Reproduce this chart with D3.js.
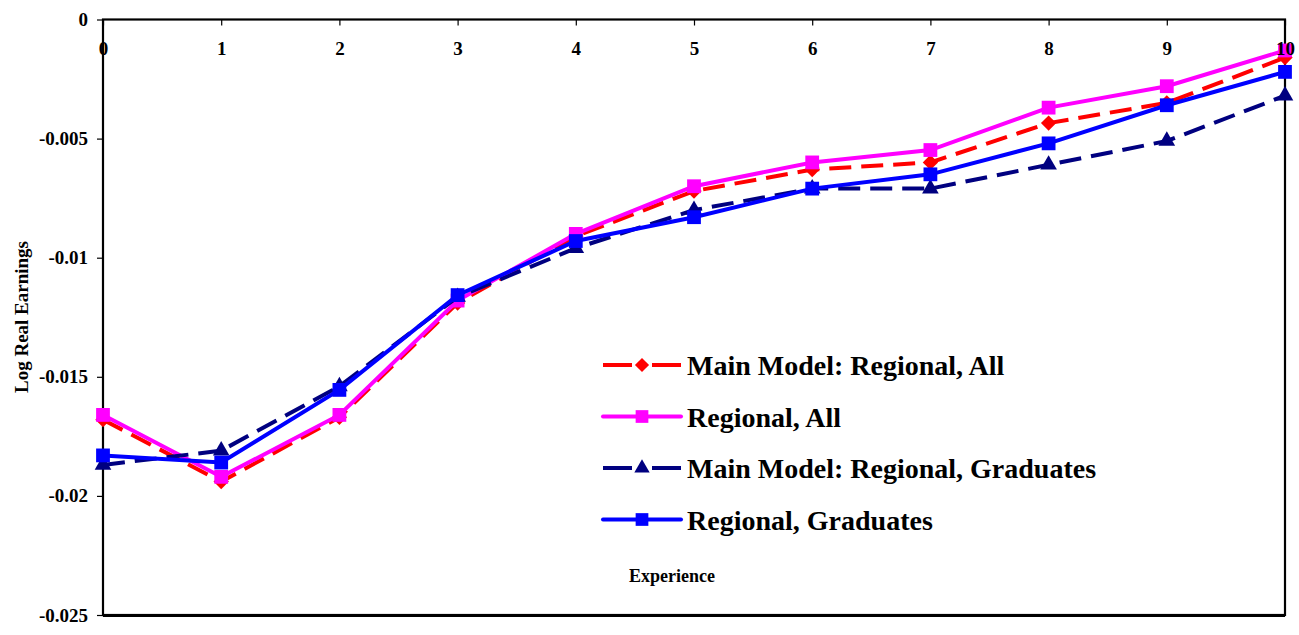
<!DOCTYPE html>
<html>
<head>
<meta charset="utf-8">
<script src="https://cdn.jsdelivr.net/npm/d3@7"></script>
<style>
  body { margin: 0; background: #fff; }
  text { font-family: "Liberation Serif", "DejaVu Serif", serif; font-weight: bold; }
</style>
</head>
<body>
<div id="container"></div>
<script>
// experience years
const experience = [0, 1, 2, 3, 4, 5, 6, 7, 8, 9, 10];

// series values
const mainAll = [-0.0168, -0.0194, -0.0167, -0.0119, -0.0091, -0.0072, -0.0063, -0.0060, -0.00435, -0.0035, -0.0016];
const regAll = [-0.0166, -0.0192, -0.0166, -0.0118, -0.0090, -0.0070, -0.0060, -0.00548, -0.0037, -0.0028, -0.0013];
const mainGrad = [-0.0187, -0.0181, -0.0154, -0.01165, -0.0096, -0.0080, -0.0071, -0.0071, -0.0061, -0.0051, -0.0032];
const regGrad = [-0.0183, -0.0186, -0.01555, -0.01157, -0.0093, -0.0083, -0.0071, -0.0065, -0.0052, -0.0036, -0.0022];

const seriesNames = ["Main Model: Regional, All", "Regional, All", "Main Model: Regional, Graduates", "Regional, Graduates"];
const yTicks = [0, -0.005, -0.01, -0.015, -0.02, -0.025];
const yTickLabels = ["0", "-0.005", "-0.01", "-0.015", "-0.02", "-0.025"];

const w = 1299;
const h = 635;
const plotLeft = 103, plotRight = 1285, plotTop = 19.5, plotBottom = 615;

const xScale = d3.scaleLinear().domain([0, 10]).range([plotLeft, plotRight]);
const yScale = d3.scaleLinear().domain([-0.025, 0]).range([plotBottom, plotTop]);

const svg = d3.select("#container")
              .append("svg")
              .attr("width", w)
              .attr("height", h);

const series = [
    {name: seriesNames[0], values: mainAll, color: "#ff0000", dash: "22,10", shape: d3.symbolDiamond2, size: 150},
    {name: seriesNames[1], values: regAll, color: "#ff00ff", dash: null, shape: d3.symbolSquare, size: 190},
    {name: seriesNames[2], values: mainGrad, color: "#000080", dash: "22,10", shape: d3.symbolTriangle, size: 120},
    {name: seriesNames[3], values: regGrad, color: "#0000ff", dash: null, shape: d3.symbolSquare, size: 190}
];

const yAxis = d3.axisLeft(yScale)
                .tickValues(yTicks)
                .tickFormat((d, i) => yTickLabels[i])
                .tickSize(6)
                .tickPadding(9);

svg.append("g")
   .attr("transform", "translate(" + plotLeft + ",0)")
   .style("font-size", "19px")
   .call(yAxis)
   .call(g => g.select(".domain").remove())
   .call(g => g.selectAll("line").attr("stroke", "#000").attr("stroke-width", 1.2))
   .call(g => g.selectAll("text").attr("fill", "#000").style("font-family", "Liberation Serif").style("font-weight", "bold"));

// plot frame
svg.append("rect")
   .attr("x", plotLeft)
   .attr("y", plotTop)
   .attr("width", plotRight - plotLeft)
   .attr("height", plotBottom - plotTop)
   .attr("fill", "none")
   .attr("stroke", "#000")
   .attr("stroke-width", 2.2);

svg.append("line")
   .attr("x1", plotLeft)
   .attr("x2", plotRight)
   .attr("y1", plotBottom + 1)
   .attr("y2", plotBottom + 1)
   .attr("stroke", "#000")
   .attr("stroke-width", 2);

const line = d3.line()
               .x((d, i) => xScale(experience[i]))
               .y(d => yScale(d));

series.forEach(function(s){
    svg.append("path")
       .datum(s.values)
       .attr("d", line)
       .attr("fill", "none")
       .attr("stroke", s.color)
       .attr("stroke-width", 4)
       .attr("stroke-dasharray", s.dash);

    svg.selectAll(null)
       .data(s.values)
       .enter()
       .append("path")
       .attr("transform", (d, i) => "translate(" + xScale(experience[i]) + "," + yScale(d) + ")")
       .attr("d", d3.symbol().type(s.shape).size(s.size))
       .attr("fill", s.color);
});

// x axis on top, ticks pointing into the plot, labels drawn over the lines
const xAxis = d3.axisBottom(xScale)
                .tickValues(experience)
                .tickFormat(d3.format("d"))
                .tickSize(6)
                .tickPadding(16);

svg.append("g")
   .attr("transform", "translate(0," + plotTop + ")")
   .style("font-size", "19px")
   .call(xAxis)
   .call(g => g.select(".domain").remove())
   .call(g => g.selectAll("line").attr("stroke", "#000").attr("stroke-width", 1.2))
   .call(g => g.selectAll("text").attr("fill", "#000").style("font-family", "Liberation Serif").style("font-weight", "bold"));

// legend
series.forEach(function(s, i){
    const ly = 365 + i * 51.5;
    svg.append("line")
       .attr("x1", 603)
       .attr("x2", 681)
       .attr("y1", ly)
       .attr("y2", ly)
       .attr("stroke", s.color)
       .attr("stroke-width", 4)
       .attr("stroke-dasharray", s.dash ? "29,20" : null)
       .attr("stroke-linecap", s.dash ? "butt" : "round");

    svg.append("path")
       .attr("transform", "translate(642," + ly + ")")
       .attr("d", d3.symbol().type(s.shape).size(s.size * 0.85))
       .attr("fill", s.color);

    svg.append("text")
       .attr("x", 687)
       .attr("y", ly + 10)
       .style("font-size", "28px")
       .text(s.name);
});

// y-axis label
svg.append("text")
   .attr("transform", "translate(28,317)rotate(-90)")
   .attr("text-anchor", "middle")
   .style("font-size", "19px")
   .text("Log Real Earnings");

// x-axis label
svg.append("text")
   .attr("x", 672)
   .attr("y", 582)
   .attr("text-anchor", "middle")
   .style("font-size", "18px")
   .text("Experience");
</script>
</body>
</html>
